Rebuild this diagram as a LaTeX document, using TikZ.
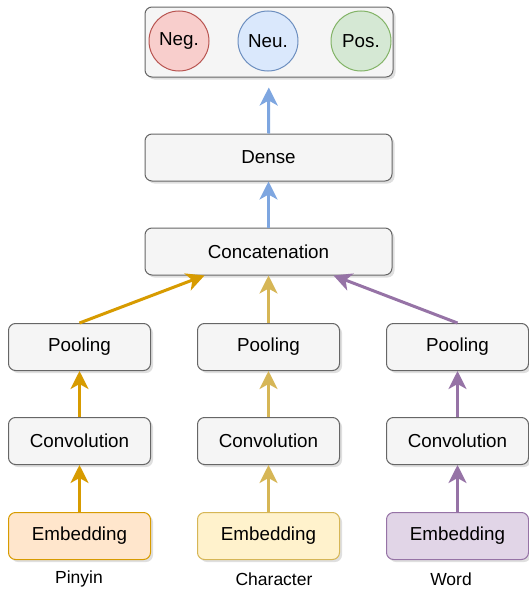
\documentclass[tikz,border=0pt]{standalone}
\usepackage{fontspec}
\setmainfont{Liberation Sans}
\usetikzlibrary{arrows.meta,shadows}

\definecolor{boxfill}{HTML}{F5F5F5}
\definecolor{boxline}{HTML}{666666}
\definecolor{pinyinline}{HTML}{D79B00}
\definecolor{pinyinfill}{HTML}{FFE6CC}
\definecolor{charline}{HTML}{D6B656}
\definecolor{charfill}{HTML}{FFF2CC}
\definecolor{wordline}{HTML}{9673A6}
\definecolor{wordfill}{HTML}{E1D5E7}
\definecolor{negline}{HTML}{B85450}
\definecolor{negfill}{HTML}{F8CECC}
\definecolor{neuline}{HTML}{6C8EBF}
\definecolor{neufill}{HTML}{DAE8FC}
\definecolor{posline}{HTML}{82B366}
\definecolor{posfill}{HTML}{D5E8D4}
\definecolor{flowblue}{HTML}{7EA6E0}

\tikzset{
  layer/.style={draw=boxline,fill=boxfill,line width=1pt,rounded corners=7pt,
    minimum width=142pt,minimum height=47pt,
    font=\fontsize{18.8}{22}\selectfont,
    drop shadow={opacity=0.25,shadow xshift=2.5pt,shadow yshift=-2.5pt}},
  wide/.style={layer,minimum width=247pt},
  label/.style={circle,line width=1pt,minimum size=60pt,inner sep=0pt,
    font=\fontsize{18.8}{22}\selectfont},
  caption/.style={font=\fontsize{17.5}{20}\selectfont},
  flow/.style={line width=3pt,-{Stealth[length=18pt,width=18pt,inset=5pt]}}
}

\begin{document}
\begin{tikzpicture}[x=1pt,y=-1pt]
\useasboundingbox (0,0) rectangle (529,589);

% output layer
\node[layer,minimum width=248pt,minimum height=70pt] (out) at (269,42) {};
\node[label,draw=negline,fill=negfill] (neg) at (179,41) {Neg.};
\node[label,draw=neuline,fill=neufill] (neu) at (268,41) {Neu.};
\node[label,draw=posline,fill=posfill] (pos) at (361,41) {Pos.};

\node[wide] (dense) at (268.5,157.5) {Dense};
\node[wide] (concat) at (268.5,251.5) {Concatenation};

% three branches
\node[layer] (pool1) at (79.5,347) {Pooling};
\node[layer] (pool2) at (268.5,347) {Pooling};
\node[layer] (pool3) at (457.5,347) {Pooling};

\node[layer] (conv1) at (79.5,441) {Convolution};
\node[layer] (conv2) at (268.5,441) {Convolution};
\node[layer] (conv3) at (457.5,441) {Convolution};

\node[layer,draw=pinyinline,fill=pinyinfill] (emb1) at (79.5,536) {Embedding};
\node[layer,draw=charline,fill=charfill] (emb2) at (268.5,536) {Embedding};
\node[layer,draw=wordline,fill=wordfill] (emb3) at (457.5,536) {Embedding};

\node[caption] (pinyin) at (79,579) {Pinyin};
\node[caption] (char) at (274,579) {Character};
\node[caption] (word) at (451,579) {Word};

\coordinate (inleft) at ([xshift=60pt]concat.south west);
\coordinate (inright) at ([xshift=-59pt]concat.south east);

\draw[flow,pinyinline] (emb1) -- (conv1);
\draw[flow,pinyinline] (conv1) -- (pool1);
\draw[flow,pinyinline] (pool1.north) -- (inleft);

\draw[flow,charline] (emb2) -- (conv2);
\draw[flow,charline] (conv2) -- (pool2);
\draw[flow,charline] (pool2) -- (concat);

\draw[flow,wordline] (emb3) -- (conv3);
\draw[flow,wordline] (conv3) -- (pool3);
\draw[flow,wordline] (pool3.north) -- (inright);

\draw[flow,flowblue] (concat) -- (dense);
\draw[flow,flowblue,shorten >=10pt] (dense) -- (out);

\end{tikzpicture}
\end{document}
